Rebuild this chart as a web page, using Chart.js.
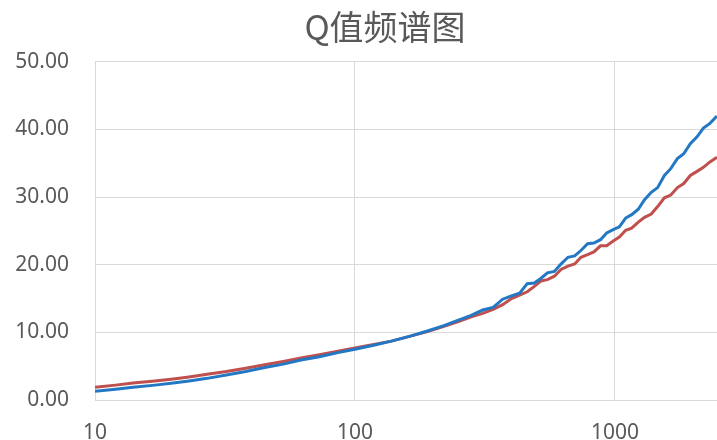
<!DOCTYPE html>
<html>
<head>
<meta charset="utf-8">
<script src="https://cdn.jsdelivr.net/npm/chart.js@4.4.1/dist/chart.umd.min.js"></script>
<style>
  html, body { margin: 0; padding: 0; background: #fff; overflow: hidden; }
  #wrap { width: 770px; height: 444px; }
</style>
</head>
<body>
<div id="wrap"><canvas id="qChart" width="770" height="444"></canvas></div>
<script>
// Frequencies (log x axis)
const freqs = [10, 12, 14, 17, 20, 23, 27, 32, 38, 45, 53, 62, 73, 86, 100, 118, 138, 162, 190, 220,
    250, 280, 310, 340, 370, 400, 430, 460, 490, 520, 550, 585, 620, 660, 700, 740, 785, 830, 880, 930,
    985, 1040, 1100, 1160, 1230, 1300, 1380, 1460, 1550, 1640, 1740, 1840, 1950, 2070, 2190, 2320, 2470];

// Blue series
const blueQ = [1.3, 1.6, 1.9, 2.2, 2.5, 2.8, 3.2, 3.7, 4.2, 4.8, 5.3, 5.9, 6.4, 7.0, 7.5, 8.1, 8.7, 9.4, 10.2, 11.0,
    11.8, 12.5, 13.3, 13.7, 14.9, 15.4, 15.8, 17.2, 17.3, 18.0, 18.8, 19.0, 20.1, 21.1, 21.3, 22.1, 23.1, 23.2, 23.7, 24.7,
    25.2, 25.6, 26.9, 27.4, 28.2, 29.6, 30.7, 31.4, 33.2, 34.2, 35.7, 36.4, 37.9, 38.9, 40.2, 40.9, 42.0];

// Red series
const redQ = [1.9, 2.2, 2.5, 2.8, 3.1, 3.4, 3.8, 4.2, 4.7, 5.2, 5.7, 6.2, 6.7, 7.2, 7.7, 8.2, 8.7, 9.4, 10.1, 10.9,
    11.6, 12.3, 12.8, 13.4, 14.1, 15.0, 15.5, 16.0, 16.8, 17.6, 17.8, 18.3, 19.3, 19.8, 20.1, 21.1, 21.5, 21.9, 22.8, 22.8,
    23.5, 24.1, 25.1, 25.4, 26.3, 27.0, 27.5, 28.6, 29.9, 30.3, 31.4, 32.0, 33.2, 33.8, 34.4, 35.2, 35.9];

const xTicks = [10, 100, 1000];
const xMin = 10;
const xMax = 3950;
const yMin = 0;
const yMax = 50;
const yStep = 10;

const toPoints = (ys) => freqs.map((f, i) => ({ x: f, y: ys[i] }));

const labelColor = '#595959';
const gridColor = '#d9d9d9';
const baseFont = "'Noto Sans', 'Noto Sans CJK SC', sans-serif";

const ctx = document.getElementById('qChart').getContext('2d');
const qChart = new Chart(ctx, {
    type: 'line',
    data: {
        datasets: [{
            label: 'blue',
            data: toPoints(blueQ),
            borderColor: 'rgb(34, 120, 196)',
            borderWidth: 3,
            pointRadius: 0,
            tension: 0
        }, {
            label: 'red',
            data: toPoints(redQ),
            borderColor: 'rgb(192, 80, 77)',
            borderWidth: 3,
            pointRadius: 0,
            tension: 0
        }]
    },
    options: {
        responsive: false,
        animation: false,
        layout: { padding: 0 },
        plugins: {
            legend: { display: false },
            tooltip: { enabled: false },
            title: {
                display: true,
                text: 'Q值频谱图',
                color: labelColor,
                font: { family: "'Noto Sans CJK SC', 'Noto Sans', sans-serif", size: 34, weight: 'normal' },
                padding: { top: 7, bottom: 14 }
            }
        },
        scales: {
            x: {
                type: 'logarithmic',
                min: xMin,
                max: xMax,
                afterFit: (scale) => { scale.height = 44; },
                afterBuildTicks: (scale) => {
                    scale.ticks = xTicks.map(v => ({ value: v }));
                },
                ticks: {
                    color: labelColor,
                    font: { family: baseFont, size: 21 },
                    padding: 20,
                    maxRotation: 0,
                    autoSkip: false,
                    callback: (v) => String(v)
                },
                grid: { color: gridColor, lineWidth: 1, drawTicks: false },
                border: { color: gridColor }
            },
            y: {
                min: yMin,
                max: yMax,
                afterFit: (scale) => { scale.width = 95; },
                ticks: {
                    stepSize: yStep,
                    color: labelColor,
                    font: { family: baseFont, size: 21 },
                    padding: 26,
                    callback: (v) => v.toFixed(2)
                },
                grid: { color: gridColor, lineWidth: 1, drawTicks: false },
                border: { color: gridColor }
            }
        }
    }
});
</script>
</body>
</html>
